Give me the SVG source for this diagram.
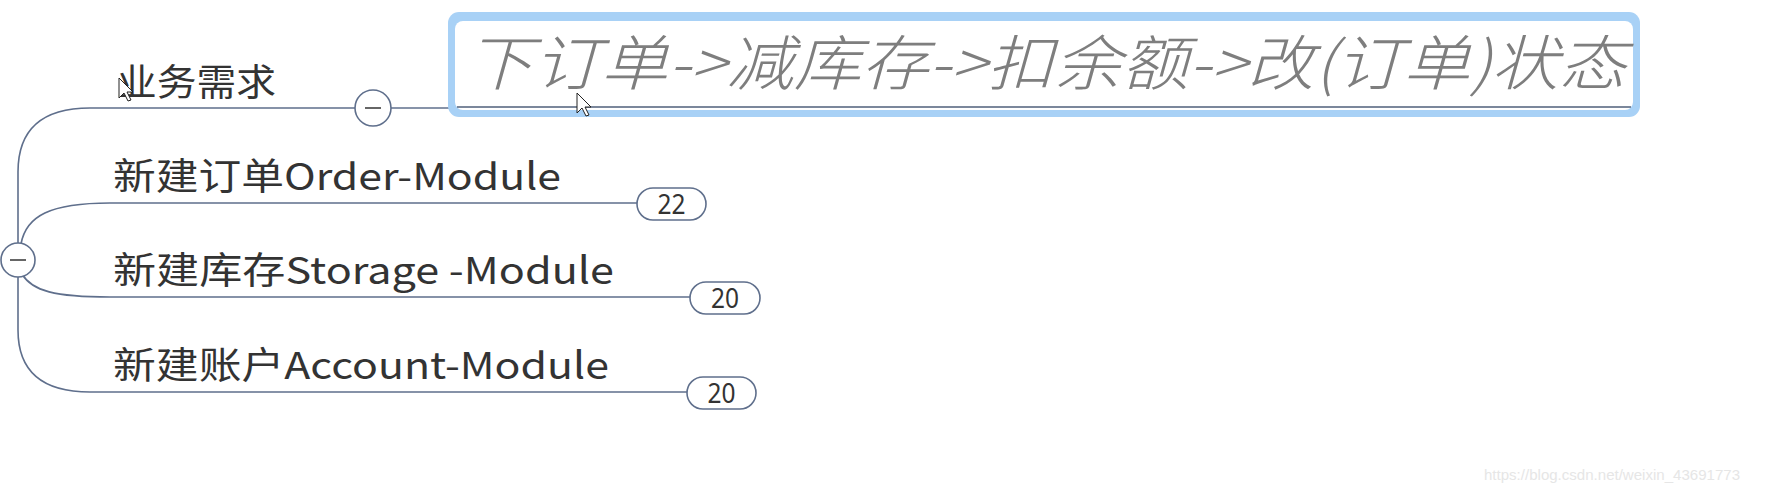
<svg xmlns="http://www.w3.org/2000/svg" width="1766" height="493" viewBox="0 0 1766 493">
<style>
.ln{fill:none;stroke:#5f6f8c;stroke-width:1.6}
.t{font-family:"Noto Sans CJK SC","Microsoft YaHei",sans-serif;font-size:37px;fill:#333}
.badge{fill:#fff;stroke:#5f6f8c;stroke-width:1.6}
.bt{font-family:"Noto Sans","Liberation Sans",sans-serif;font-size:27px;fill:#333;text-anchor:middle}
.col{fill:#fff;stroke:#5f6f8c;stroke-width:1.6}
.minus{stroke:#555;stroke-width:1.8}
.cur{fill:#fff;stroke:#222;stroke-width:1}
</style>
<rect width="1766" height="493" fill="#fff"/>
<g id="connectors">
<path class="ln" d="M18,243 V172 Q18,108 90,108 H355"/>
<path class="ln" d="M391,108 H452"/>
<path class="ln" d="M21,244 C26,216 50,203 110,203 H637"/>
<path class="ln" d="M22,274 C32,291 55,297 110,297 H690"/>
<path class="ln" d="M18,277 V330 Q18,392 90,392 H687"/>
</g>
<g id="node-root-collapse">
<circle class="col" cx="18" cy="260" r="17"/>
<line class="minus" x1="10" y1="260" x2="26" y2="260"/>
</g>
<g id="node-yewu">
<text class="t" x="117" y="96" textLength="159" lengthAdjust="spacingAndGlyphs">业务需求</text>
<circle class="col" cx="373" cy="108" r="18"/>
<line class="minus" x1="365" y1="108" x2="381" y2="108"/>
</g>
<g id="node-flow">
<rect x="448" y="12" width="1192" height="105" rx="11" fill="#a8d1f6"/>
<rect x="455" y="21" width="1178" height="89" rx="8" fill="#fff"/>
<line x1="457" y1="107" x2="1631" y2="107" stroke="#4f5f7a" stroke-width="1.6"/>
<text x="466" y="85" textLength="1160" lengthAdjust="spacingAndGlyphs" style="font-family:'Noto Sans CJK SC',sans-serif;font-size:60px;font-style:italic;font-weight:300;fill:#7e7e7e">下订单-&gt;减库存-&gt;扣余额-&gt;改(订单)状态</text>
</g>
<g id="node-order">
<text class="t" x="113" y="190" textLength="448" lengthAdjust="spacingAndGlyphs">新建订单Order-Module</text>
<rect class="badge" x="637" y="188" width="69" height="32" rx="16"/>
<text class="bt" x="671.5" y="214" textLength="28" lengthAdjust="spacingAndGlyphs">22</text>
</g>
<g id="node-storage">
<text class="t" x="113" y="284" textLength="501" lengthAdjust="spacingAndGlyphs">新建库存Storage -Module</text>
<rect class="badge" x="690" y="282" width="70" height="32" rx="16"/>
<text class="bt" x="725" y="308" textLength="28" lengthAdjust="spacingAndGlyphs">20</text>
</g>
<g id="node-account">
<text class="t" x="113" y="379" textLength="496" lengthAdjust="spacingAndGlyphs">新建账户Account-Module</text>
<rect class="badge" x="687" y="377" width="69" height="32" rx="16"/>
<text class="bt" x="721.5" y="403" textLength="28" lengthAdjust="spacingAndGlyphs">20</text>
</g>
<g id="cursors">
<path class="cur" d="M119,78 V98 L124,93 L128,101 L131,100 L127,92 L133,92 Z"/>
<path class="cur" d="M577,93 V113 L582,108 L586,116 L589,115 L585,107 L591,107 Z"/>
</g>
<text x="1484" y="480" textLength="256" lengthAdjust="spacingAndGlyphs" style="font-family:'Liberation Sans',Arial,sans-serif;font-size:15px;fill:#e6e6e6">https://blog.csdn.net/weixin_43691773</text>
</svg>
